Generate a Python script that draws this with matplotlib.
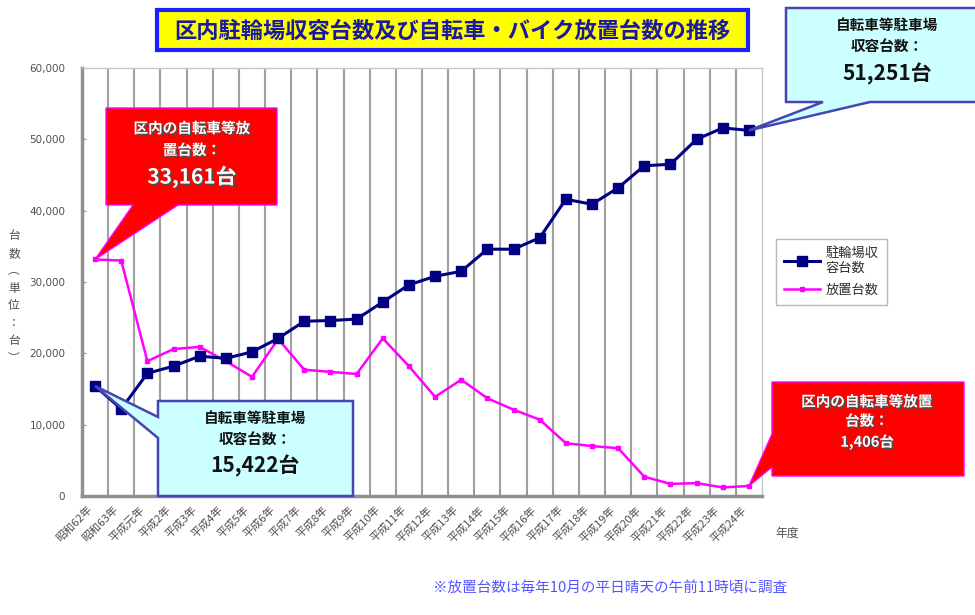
import matplotlib
matplotlib.use("Agg")
import matplotlib.pyplot as plt
import matplotlib.patheffects as pe
from matplotlib.patches import Polygon, Rectangle
from matplotlib.lines import Line2D
from matplotlib.transforms import ScaledTranslation

plt.rcParams['font.family'] = ['Noto Sans CJK JP', 'DejaVu Sans']

# data
years = ['昭和62年', '昭和63年', '平成元年'] + ['平成%d年' % n for n in range(2, 25)]
capacity = [15422, 12200, 17200, 18200, 19600, 19300, 20200, 22100, 24500, 24600,
            24800, 27200, 29600, 30800, 31500, 34600, 34600, 36200, 41600, 40900,
            43200, 46300, 46500, 50000, 51600, 51251]
abandoned = [33161, 33000, 18900, 20600, 20900, 18900, 16700, 22000, 17700, 17400,
             17100, 22100, 18200, 13900, 16300, 13700, 12100, 10700, 7400, 7000,
             6700, 2700, 1700, 1800, 1200, 1406]
yticks = [0, 10000, 20000, 30000, 40000, 50000, 60000]

W, H = 975, 615
NAVY = '#000080'
MAGENTA = '#FF00FF'

fig = plt.figure(figsize=(W / 100, H / 100), dpi=100)
ax = fig.add_axes([82 / W, 1 - 496 / H, 680 / W, 428 / H])

x = list(range(len(years)))
ax.plot(x, capacity, color=NAVY, lw=2.2, marker='s', ms=6.5, zorder=4, clip_on=False)
ax.plot(x, abandoned, color=MAGENTA, lw=1.8, marker='s', ms=3.5, zorder=3, clip_on=False)

ax.set_xlim(-0.5, len(years) - 0.5)
ax.set_ylim(0, 60000)
ax.set_yticks(yticks)
ax.set_yticklabels(['{:,}'.format(v) for v in yticks], family='DejaVu Sans',
                   fontsize=7.5, color='#505050')
ax.tick_params(axis='y', direction='in', length=3, color='#909090', pad=12)

ax.set_xticks(x)
ax.set_xticklabels(years, rotation=45, ha='right', va='top', rotation_mode='anchor',
                   fontsize=8, color='#505050')
ax.tick_params(axis='x', length=0, pad=6)
shift = ScaledTranslation(-6 / 72, 0, fig.dpi_scale_trans)
for lab in ax.get_xticklabels():
    lab.set_transform(lab.get_transform() + shift)
ax.set_xticks([i + 0.5 for i in x[:-1]], minor=True)
ax.tick_params(axis='x', which='minor', direction='in', length=4, color='#909090')
ax.grid(True, which='minor', axis='x', color='#A0A0A0', lw=1.5)

for s in ['left', 'bottom']:
    ax.spines[s].set_color('#909090')
    ax.spines[s].set_linewidth(2.5)
for s in ['top', 'right']:
    ax.spines[s].set_color('#C8C8C8')
    ax.spines[s].set_linewidth(1)


def fpos(px, py):
    return (px / W, 1 - py / H)


def tip(i, v):
    return fig.transFigure.inverted().transform(ax.transData.transform((i, v)))


def callout(pts, face, edge, lw):
    fig.patches.append(Polygon(pts, closed=True, transform=fig.transFigure,
                               facecolor=face, edgecolor=edge, lw=lw, zorder=5))


# title
fig.patches.append(Rectangle(fpos(157, 50), 591 / W, 40 / H, transform=fig.transFigure,
                             facecolor='#FFFF00', edgecolor='#1E1EFF', lw=3, zorder=5))
fig.text(452 / W, 1 - 31 / H, '区内駐輪場収容台数及び自転車・バイク放置台数の推移',
         ha='center', va='center', fontsize=16, fontweight='bold', color='#1A1AA0', zorder=6)

# callouts
shadow = [pe.SimplePatchShadow(offset=(1.2, -1.2), shadow_rgbFace='#505050', alpha=1), pe.Normal()]

callout([fpos(106, 108), fpos(277, 108), fpos(277, 205), fpos(178, 205),
         tip(0, abandoned[0]), fpos(133, 205), fpos(106, 205)], '#FF0000', MAGENTA, 1)
fig.text(192 / W, 1 - 139 / H, '区内の自転車等放\n置台数：', ha='center', va='center',
         fontsize=10.5, fontweight='bold', color='white', linespacing=1.45, path_effects=shadow, zorder=6)
fig.text(192 / W, 1 - 177 / H, '{:,}台'.format(abandoned[0]), ha='center', va='center',
         fontsize=15, fontweight='bold', color='white', path_effects=shadow, zorder=6)

callout([fpos(158, 401), fpos(353, 401), fpos(353, 496), fpos(158, 496), fpos(158, 438),
         tip(0, capacity[0]), fpos(158, 417)], '#CCFFFF', '#4545B5', 1.8)
fig.text(255 / W, 1 - 429 / H, '自転車等駐車場\n収容台数：', ha='center', va='center',
         fontsize=10.5, fontweight='bold', color='#111111', linespacing=1.45, zorder=6)
fig.text(255 / W, 1 - 466 / H, '{:,}台'.format(capacity[0]), ha='center', va='center',
         fontsize=15, fontweight='bold', color='#111111', zorder=6)

callout([fpos(786, 8), fpos(990, 8), fpos(990, 102), fpos(870, 102),
         tip(len(x) - 1, capacity[-1]), fpos(823, 102), fpos(786, 102)], '#CCFFFF', '#4545B5', 1.8)
fig.text(887 / W, 1 - 36 / H, '自転車等駐車場\n収容台数：', ha='center', va='center',
         fontsize=10.5, fontweight='bold', color='#111111', linespacing=1.45, zorder=6)
fig.text(887 / W, 1 - 74 / H, '{:,}台'.format(capacity[-1]), ha='center', va='center',
         fontsize=15, fontweight='bold', color='#111111', zorder=6)

callout([fpos(772, 382), fpos(964, 382), fpos(964, 476), fpos(772, 476), fpos(772, 467),
         tip(len(x) - 1, abandoned[-1]), fpos(772, 434)], '#FF0000', MAGENTA, 1)
fig.text(867 / W, 1 - 411 / H, '区内の自転車等放置\n台数：', ha='center', va='center',
         fontsize=10.5, fontweight='bold', color='white', linespacing=1.25, path_effects=shadow, zorder=6)
fig.text(867 / W, 1 - 442 / H, '{:,}台'.format(abandoned[-1]), ha='center', va='center',
         fontsize=10.5, fontweight='bold', color='white', path_effects=shadow, zorder=6)

# legend
handles = [Line2D([], [], color=NAVY, lw=2.2, marker='s', ms=6.5),
           Line2D([], [], color=MAGENTA, lw=1.8, marker='s', ms=3.5)]
fig.legend(handles, ['駐輪場収\n容台数', '放置台数'], loc='upper left',
           bbox_to_anchor=(769 / W, 1 - 232 / H), fontsize=9.5, handlelength=2.8,
           frameon=True, fancybox=False, edgecolor='#A8A8A8', labelcolor='#303030',
           borderpad=0.6, labelspacing=0.7, handletextpad=0.4)

# axis texts
fig.text(14 / W, 1 - 297 / H, '台\n数\n︵\n単\n位\n：\n台\n︶', ha='center', va='center',
         fontsize=8.5, color='#505050', linespacing=1.45)
fig.text(787 / W, 1 - 533 / H, '年度', ha='center', va='center', fontsize=8.5, color='#505050')
fig.text(610 / W, 1 - 588 / H, '※放置台数は毎年10月の平日晴天の午前11時頃に調査',
         ha='center', va='center', fontsize=10.5, color='#5555FF')

fig.savefig('out.png', dpi=100, facecolor='white')
